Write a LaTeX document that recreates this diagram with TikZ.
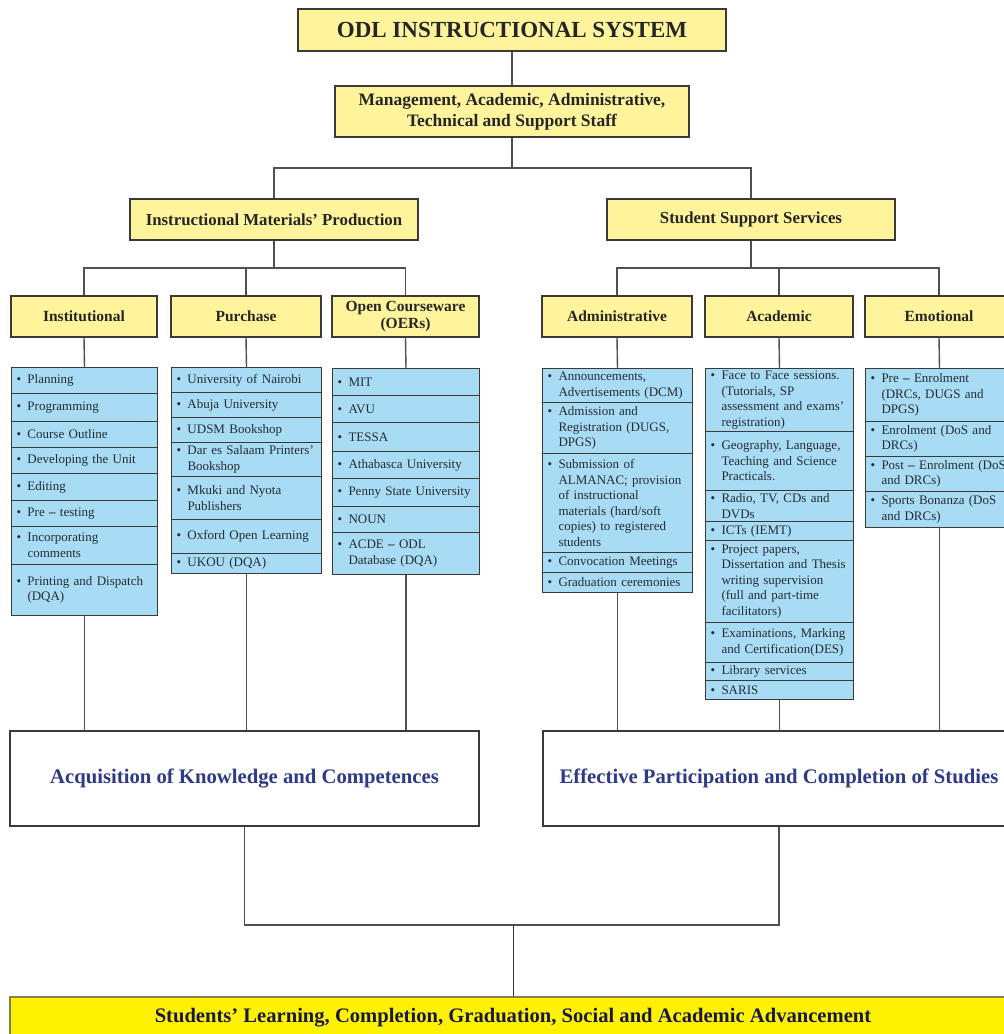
\documentclass[tikz,border=0pt]{standalone}
\usepackage{fontspec}
\setmainfont{Liberation Serif}
\definecolor{hdryellow}{HTML}{FFF49C}
\definecolor{goalyellow}{HTML}{FFF200}
\definecolor{listblue}{HTML}{A7DCF4}
\definecolor{boxedge}{HTML}{3A3A3A}
\definecolor{linegray}{HTML}{505050}
\definecolor{listtext}{HTML}{262B33}
\definecolor{navytext}{HTML}{2E3A88}
\definecolor{goaledge}{HTML}{8A7C4E}

% box given by its corners: style, name, x1, y1, x2, y2, text
\newcommand\boxat[7]{%
  \pgfmathsetmacro\bxW{#5-#3}\pgfmathsetmacro\bxH{#6-#4}%
  \pgfmathsetmacro\bxX{(#3+#5)/2}\pgfmathsetmacro\bxY{(#4+#6)/2}%
  \node[#1, minimum width=\bxW pt, minimum height=\bxH pt] (#2) at (\bxX,\bxY) {#7};}

% bulleted list row with hanging indent: name, x1, y1, x2, y2, text
\newcommand\lrow[6]{%
  \pgfmathsetmacro\bxW{#4-#2}\pgfmathsetmacro\bxH{#5-#3}%
  \pgfmathsetmacro\bxT{#4-#2-10}%
  \node[listrow, minimum width=\bxW pt, minimum height=\bxH pt, text width=\bxT pt]
    (#1) at (#2,#3) {\hangindent=11pt\hangafter=1\makebox[11pt][l]{\textbullet}#6\par};}

\begin{document}
\begin{tikzpicture}[x=1pt,y=-1pt,
  conn/.style={draw=linegray, line width=1.4pt},
  hdr/.style={draw=boxedge, line width=1.1pt, fill=hdryellow, text=black!85,
    font=\bfseries\fontsize{15.5}{17}\selectfont, align=center, inner sep=0pt},
  listrow/.style={draw=boxedge, line width=1pt, fill=listblue, text=listtext,
    font=\fontsize{13}{15.5}\selectfont, align=left, inner xsep=5pt, inner ysep=0.5pt,
    anchor=north west},
  outcome/.style={draw=boxedge, line width=1.1pt, fill=white, text=navytext,
    font=\bfseries\fontsize{20.7}{24}\selectfont, inner sep=0pt},
  goal/.style={draw=goaledge, line width=1.2pt, fill=goalyellow, text=black!80!blue!90,
    font=\bfseries\fontsize{20.6}{24}\selectfont, inner sep=0pt},
]
\useasboundingbox (0,0) rectangle (1004,1034);
\fill[white] (0,0) rectangle (1004,1034);
\clip (0,0) rectangle (1004,1034);

% ---- top of the hierarchy
\boxat{hdr, font=\bfseries\fontsize{23}{26}\selectfont}{odl}{298}{9}{726}{51}{ODL INSTRUCTIONAL SYSTEM}
\boxat{hdr, font=\bfseries\fontsize{17.5}{21}\selectfont}{staff}{335}{86}{689}{137}{Management, Academic, Administrative,\\Technical and Support Staff}
\boxat{hdr, font=\bfseries\fontsize{16.8}{19}\selectfont}{imp}{130}{199}{418}{240}{Instructional Materials’ Production}
\boxat{hdr, font=\bfseries\fontsize{16.8}{19}\selectfont}{sss}{607}{199}{895}{240}{Student Support Services}

% ---- third level headers
\boxat{hdr}{inst}{11}{296}{157}{337}{Institutional}
\boxat{hdr}{purch}{171}{296}{321}{337}{Purchase}
\boxat{hdr}{oer}{332}{296}{479}{337}{Open Courseware\\(OERs)}
\boxat{hdr}{adm}{542}{296}{692}{337}{Administrative}
\boxat{hdr}{aca}{705}{296}{853}{337}{Academic}
\boxat{hdr}{emo}{865}{296}{1013}{337}{Emotional}

% ---- Institutional list
\lrow{i1}{11}{367}{157}{393}{Planning}
\lrow{i2}{11}{393}{157}{421}{Programming}
\lrow{i3}{11}{421}{157}{447}{Course Outline}
\lrow{i4}{11}{447}{157}{473}{Developing the Unit}
\lrow{i5}{11}{473}{157}{500}{Editing}
\lrow{i6}{11}{500}{157}{526}{Pre \textbf{–} testing}
\lrow{i7}{11}{526}{157}{564}{Incorporating\newline comments}
\lrow{i8}{11}{564}{157}{615}{Printing and Dispatch\newline (DQA)}

% ---- Purchase list
\lrow{p1}{171}{367}{321}{392}{University of Nairobi}
\lrow{p2}{171}{392}{321}{417}{Abuja University}
\lrow{p3}{171}{417}{321}{442}{UDSM Bookshop}
\lrow{p4}{171}{442}{321}{476}{Dar es Salaam Printers’\newline Bookshop}
\lrow{p5}{171}{476}{321}{519}{Mkuki and Nyota\newline Publishers}
\lrow{p6}{171}{519}{321}{553}{Oxford Open Learning}
\lrow{p7}{171}{553}{321}{573}{UKOU (DQA)}

% ---- Open courseware list
\lrow{o1}{332}{368}{479}{395}{MIT}
\lrow{o2}{332}{395}{479}{422}{AVU}
\lrow{o3}{332}{422}{479}{451}{TESSA}
\lrow{o4}{332}{451}{479}{478}{Athabasca University}
\lrow{o5}{332}{478}{479}{506}{Penny State University}
\lrow{o6}{332}{506}{479}{532}{NOUN}
\lrow{o7}{332}{532}{479}{574}{ACDE \textbf{–} ODL\newline Database (DQA)}

% ---- Administrative list
\lrow{a1}{542}{368}{692}{402}{Announcements,\newline Advertisements (DCM)}
\lrow{a2}{542}{402}{692}{453}{Admission and\newline Registration (DUGS,\newline DPGS)}
\lrow{a3}{542}{453}{692}{552}{Submission of\newline ALMANAC; provision\newline of instructional\newline materials (hard/soft\newline copies) to registered\newline students}
\lrow{a4}{542}{552}{692}{572}{Convocation Meetings}
\lrow{a5}{542}{572}{692}{592}{Graduation ceremonies}

% ---- Academic list
\lrow{c1}{705}{368}{853}{431}{Face to Face sessions.\newline (Tutorials, SP\newline assessment and exams’\newline registration)}
\lrow{c2}{705}{431}{853}{490}{Geography, Language,\newline Teaching and Science\newline Practicals.}
\lrow{c3}{705}{490}{853}{521}{Radio, TV, CDs and\newline DVDs}
\lrow{c4}{705}{521}{853}{540}{ICTs (IEMT)}
\lrow{c5}{705}{540}{853}{622}{Project papers,\newline Dissertation and Thesis\newline writing supervision\newline (full and part-time\newline facilitators)}
\lrow{c6}{705}{622}{853}{662}{Examinations, Marking\newline and Certification(DES)}
\lrow{c7}{705}{662}{853}{680}{Library services}
\lrow{c8}{705}{680}{853}{699}{SARIS}

% ---- Emotional list
\lrow{e1}{865}{368}{1013}{421}{Pre \textbf{–} Enrolment\newline (DRCs, DUGS and\newline DPGS)}
\lrow{e2}{865}{421}{1013}{456}{Enrolment (DoS and\newline DRCs)}
\lrow{e3}{865}{456}{1013}{491}{Post \textbf{–} Enrolment (DoS\newline and DRCs)}
\lrow{e4}{865}{491}{1013}{527}{Sports Bonanza (DoS\newline and DRCs)}

% ---- outcomes
\boxat{outcome}{acq}{10}{731}{479}{826}{Acquisition of Knowledge and Competences}
\boxat{outcome}{eff}{543}{731}{1015}{826}{Effective Participation and Completion of Studies}
\boxat{goal}{goalbox}{10}{997}{1016}{1038}{Students’ Learning, Completion, Graduation, Social and Academic Advancement}

% ---- connectors
\draw[conn] (odl.south) -- (odl.south |- staff.north);
\coordinate (j1) at (staff.south |- 0,168);
\draw[conn] (staff.south) -- (j1);
\draw[conn] (j1) -| (imp.north);
\draw[conn] (j1) -| (sss.north);

\coordinate (j2) at (imp.south |- 0,268);
\draw[conn] (imp.south) -- (j2);
\draw[conn] (j2) -| (inst.north);
\draw[conn] (j2) -| (purch.north);
\draw[conn] (j2) -| (oer.north);

\coordinate (j3) at (sss.south |- 0,268);
\draw[conn] (sss.south) -- (j3);
\draw[conn] (j3) -| (adm.north);
\draw[conn] (j3) -| (aca.north);
\draw[conn] (j3) -| (emo.north);

\draw[conn] (inst.south) -- (i1.north);
\draw[conn] (purch.south) -- (p1.north);
\draw[conn] (oer.south) -- (o1.north);
\draw[conn] (adm.south) -- (a1.north);
\draw[conn] (aca.south) -- (c1.north);
\draw[conn] (emo.south) -- (e1.north);

\draw[conn] (i8.south) -- (i8.south |- acq.north);
\draw[conn] (p7.south) -- (p7.south |- acq.north);
\draw[conn] (o7.south) -- (o7.south |- acq.north);
\draw[conn] (a5.south) -- (a5.south |- eff.north);
\draw[conn] (c8.south) -- (c8.south |- eff.north);
\draw[conn] (e4.south) -- (e4.south |- eff.north);

\coordinate (j4) at (goalbox.north |- 0,925);
\draw[conn] (acq.south) |- (j4) -| (eff.south);
\draw[conn, line width=1pt, draw=black!80] (j4) -- (goalbox.north);
\end{tikzpicture}
\end{document}
